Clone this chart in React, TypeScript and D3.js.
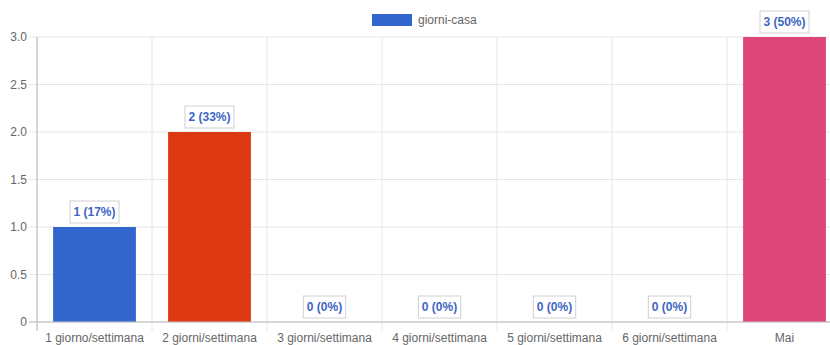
import React from "react";
import * as d3 from "d3";

const categories = [
  "1 giorno/settimana",
  "2 giorni/settimana",
  "3 giorni/settimana",
  "4 giorni/settimana",
  "5 giorni/settimana",
  "6 giorni/settimana",
  "Mai",
];
const values = [1, 2, 0, 0, 0, 0, 3];
const percents = ["17%", "33%", "0%", "0%", "0%", "0%", "50%"];
const barColors = ["#3366cc", "#dc3912", "#ff9900", "#109618", "#990099", "#0099c6", "#dd4477"];
const yTicks = [0, 0.5, 1, 1.5, 2, 2.5, 3];
const seriesName = "giorni-casa";

const W = 830;
const H = 345;
const left = 37;
const right = 842;
const top = 37;
const bottom = 322;
const font = "'Liberation Sans', Arial, Helvetica, sans-serif";

function textWidth(s: string, size: number, weight = "bold") {
  if (typeof document === "undefined") return s.length * size * 0.55;
  const c = document.createElement("canvas").getContext("2d")!;
  c.font = `${weight} ${size}px ${font}`;
  return c.measureText(s).width;
}

export default function App() {
  const x = d3.scaleBand<string>().domain(categories).range([left, right]).paddingInner(0.28).paddingOuter(0.14);
  const xb = d3.scaleBand<string>().domain(categories).range([left, right]);
  const y = d3.scaleLinear().domain([0, 3]).range([bottom, top]);
  const bounds = categories.map((c) => xb(c)!).concat([right]);

  return (
    <svg width={W} height={H} style={{ position: "absolute", left: 0, top: 0, fontFamily: font }}>
      <rect width={W} height={H} fill="#fff" />
      {/* legend */}
      <rect x={372} y={14} width={40} height={12} fill={barColors[0]} />
      <text x={418} y={24} fontSize={12} fill="#666">{seriesName}</text>
      {/* horizontal grid */}
      {yTicks.map((t) => (
        <g key={"y" + t}>
          <line x1={left - 8} x2={right} y1={y(t)} y2={y(t)} stroke={t === 0 ? "#c8c8c8" : "#e6e6e6"} />
          <text x={27} y={y(t)} dy="0.35em" textAnchor="end" fontSize={12} fill="#666">
            {t === 0 ? "0" : t.toFixed(1)}
          </text>
        </g>
      ))}
      {/* vertical grid */}
      {bounds.map((b, i) => (
        <line key={"v" + i} x1={b} x2={b} y1={top} y2={bottom + 9} stroke={i === 0 ? "#c8c8c8" : "#e6e6e6"} />
      ))}
      {/* bars */}
      {categories.map((c, i) => (
        <rect
          key={"b" + c}
          x={x(c)}
          y={y(values[i])}
          width={x.bandwidth()}
          height={bottom - y(values[i])}
          fill={barColors[i]}
        />
      ))}
      {/* axis line redraw */}
      <line x1={left - 8} x2={right} y1={bottom} y2={bottom} stroke="#c8c8c8" />
      <line x1={left} x2={left} y1={top} y2={bottom + 9} stroke="#c8c8c8" />
      {/* x labels */}
      {categories.map((c) => (
        <text key={"xl" + c} x={xb(c)! + xb.bandwidth() / 2} y={342} textAnchor="middle" fontSize={12} fill="#666">
          {c}
        </text>
      ))}
      {/* value labels */}
      {categories.map((c, i) => {
        const label = `${values[i]} (${percents[i]})`;
        const tw = textWidth(label, 12);
        const cx = x(c)! + x.bandwidth() / 2;
        const by = y(values[i]) - 4;
        const bw = tw + 7;
        return (
          <g key={"vl" + c}>
            <rect x={cx - bw / 2} y={by - 22} width={bw} height={22} fill="#fff" stroke="#d0d0d0" />
            <text x={cx} y={by - 11} dy="0.35em" textAnchor="middle" fontSize={12} fontWeight="bold" fill="#3d66c4">
              {label}
            </text>
          </g>
        );
      })}
    </svg>
  );
}
